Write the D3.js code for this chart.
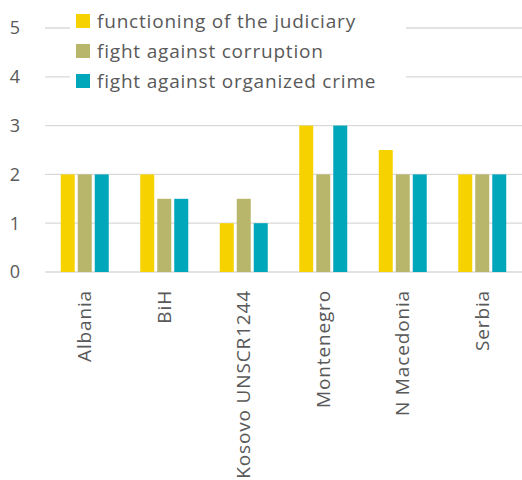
<!DOCTYPE html>
<html>
<head>
<meta charset="utf-8">
<script src="https://cdn.jsdelivr.net/npm/d3@7"></script>
<style>
	body { margin: 0; background: #fff; }
	svg text { font-family: "Open Sans", sans-serif; fill: #595959; }
</style>
</head>
<body>
<svg id="chart" width="522" height="480"></svg>
<script>

const CATEGORIES = ['Albania', 'BiH', 'Kosovo UNSCR1244', 'Montenegro', 'N Macedonia', 'Serbia'];
const SERIES = ['functioning of the judiciary', 'fight against corruption', 'fight against organized crime'];
const JUDICIARY = [2, 2, 1, 3, 2.5, 2];
const CORRUPTION = [2, 1.5, 1.5, 2, 2, 2];
const ORGANIZED_CRIME = [2, 1.5, 1, 3, 2, 2];
const Y_TICKS = [0, 1, 2, 3, 4, 5];
const COLORS = ['#F6D300', '#B8B66A', '#00A6BA'];

const svg = d3.select('#chart');
const width = 522, height = 480;
const margin = {top: 28, right: 0, bottom: 208, left: 45};

const values = [JUDICIARY, CORRUPTION, ORGANIZED_CRIME];

const x0 = d3.scaleBand()
	.domain(CATEGORIES)
	.range([margin.left, width - margin.right]);

const x1 = d3.scaleBand()
	.domain(SERIES)
	.range([0, 48])
	.paddingInner(3 / 17);

const y = d3.scaleLinear()
	.domain([0, 5])
	.range([height - margin.bottom, margin.top]);

// gridlines
svg.append('g')
	.selectAll('line')
	.data(Y_TICKS)
	.enter()
	.append('line')
		.attr('x1', margin.left)
		.attr('x2', width - margin.right)
		.attr('y1', d => y(d))
		.attr('y2', d => y(d))
		.attr('stroke', '#d9d9d9')
		.attr('stroke-width', 1.3);

// y labels
svg.append('g')
	.selectAll('text')
	.data(Y_TICKS)
	.enter()
	.append('text')
		.text(d => d)
		.attr('x', 15)
		.attr('y', d => y(d))
		.attr('dy', '0.35em')
		.attr('text-anchor', 'middle')
		.style('font-size', '18px');

// bars
const groupOffset = (x0.bandwidth() - 48) / 2;
const groups = svg.append('g')
	.selectAll('g')
	.data(CATEGORIES)
	.enter()
	.append('g')
		.attr('transform', d => `translate(${x0(d) + groupOffset},0)`);

groups.selectAll('rect')
	.data((d, i) => SERIES.map((s, j) => ({series: s, value: values[j][i], color: COLORS[j]})))
	.enter()
	.append('rect')
		.attr('x', d => x1(d.series))
		.attr('width', x1.bandwidth())
		.attr('y', d => y(d.value))
		.attr('height', d => y(0) - y(d.value))
		.attr('fill', d => d.color);

// category labels, rotated
svg.append('g')
	.selectAll('text')
	.data(CATEGORIES)
	.enter()
	.append('text')
		.text(d => d)
		.attr('text-anchor', 'end')
		.attr('dy', '0.35em')
		.attr('transform', d => `translate(${x0(d) + x0.bandwidth() / 2},290) rotate(-90)`)
		.style('font-size', '19px')
		.style('letter-spacing', '0.85px');

// legend with white background covering grid lines
const legend = svg.append('g');
legend.append('rect')
	.attr('x', 70)
	.attr('y', 5)
	.attr('width', 336)
	.attr('height', 92)
	.attr('fill', '#fff');

const items = legend.selectAll('g')
	.data(SERIES)
	.enter()
	.append('g')
		.attr('transform', (d, i) => `translate(76,${21 + i * 30})`);

items.append('rect')
	.attr('x', 0)
	.attr('y', -7)
	.attr('width', 14)
	.attr('height', 14)
	.attr('fill', (d, i) => COLORS[i]);

items.append('text')
	.text(d => d)
	.attr('x', 21)
	.attr('dy', '0.35em')
	.style('font-size', '19px')
	.style('letter-spacing', '0.8px');

</script>
</body>
</html>
